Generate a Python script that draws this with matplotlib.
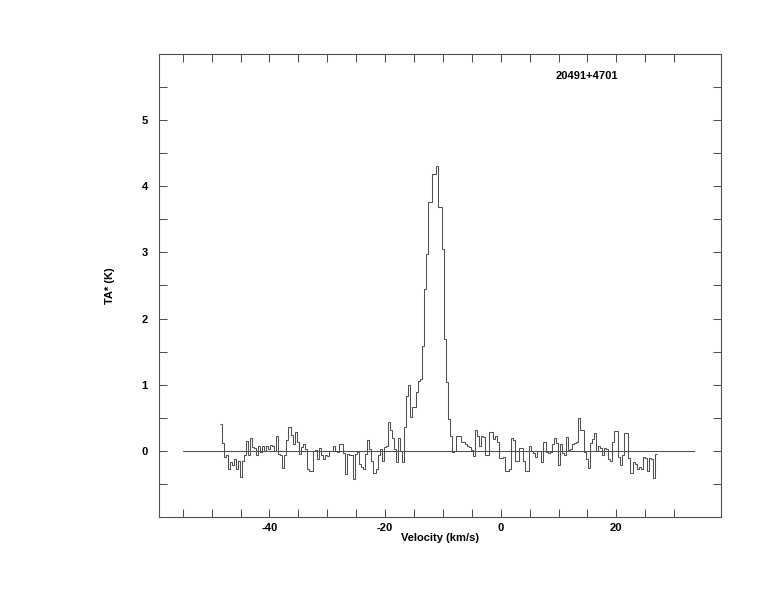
import numpy as np
import matplotlib
matplotlib.use("Agg")
import matplotlib.pyplot as plt

# source name and axis labels
source_name = "20491+4701"
x_label = "Velocity (km/s)"
y_label = "TA* (K)"

# spectral grid: first channel edge and channel width (km/s)
v_first_edge = -48.6
chan_width = 0.35

# antenna temperature per channel (K)
ta_noise_left = [
    0.41, 0.12, -0.10, -0.07, -0.27, -0.17, -0.21, -0.12, -0.28, -0.15,
    -0.40, -0.15, -0.07, 0.15, -0.06, 0.19, 0.06, 0.04, -0.06, 0.08,
    -0.02, 0.07, 0.00, 0.08, 0.03, 0.09, 0.08, 0.00, 0.22, -0.05,
    -0.07, -0.26, -0.06, 0.17, 0.36, 0.24, 0.10, 0.28, 0.13, -0.05,
    0.06, 0.11, 0.03, -0.28, -0.30, -0.30, 0.00, 0.02, -0.13, 0.04,
    -0.06, -0.13, -0.07, -0.08, 0.00, 0.00, 0.08, 0.00, -0.01, 0.11,
    0.11, -0.03, -0.35, -0.05, -0.06, -0.07, -0.42, -0.05, -0.02, -0.20,
    -0.25, -0.27, -0.05, 0.16, 0.03, -0.15, -0.33, -0.27, -0.07, 0.03,
    -0.15, 0.06, 0.08, 0.43, 0.31, 0.19, 0.03, -0.17, 0.19, 0.00,
    -0.17, 0.36,
]
ta_line = [
    0.83, 0.99, 0.51, 0.66, 0.66, 0.89, 1.05, 1.09, 1.59, 2.45,
    2.98, 3.76, 3.76, 4.18, 4.18, 4.30, 3.68, 3.68, 3.05, 1.69,
    1.04, 0.48, 0.23, -0.02,
]
ta_noise_right = [
    0.00, 0.23, 0.22, 0.13, 0.13, 0.11, 0.08, 0.06, 0.02, -0.08,
    0.31, 0.23, 0.08, 0.22, 0.21, -0.06, -0.06, 0.28, 0.28, 0.18,
    0.22, 0.13, -0.11, -0.11, -0.10, -0.31, -0.31, -0.27, 0.19, 0.16,
    -0.16, -0.16, 0.04, 0.04, -0.15, -0.31, -0.31, 0.07, 0.00, -0.03,
    -0.10, 0.00, 0.00, -0.17, 0.13, -0.01, -0.03, -0.01, 0.11, 0.19,
    0.12, -0.21, 0.11, -0.03, -0.06, 0.21, 0.02, 0.03, 0.11, 0.12,
    0.13, 0.49, 0.31, 0.31, -0.02, -0.12, -0.26, 0.12, 0.18, 0.27,
    0.00, 0.07, 0.04, -0.06, 0.04, 0.03, -0.12, -0.15, 0.14, 0.30,
    0.30, -0.10, -0.21, -0.06, 0.27, 0.27, -0.11, -0.33, -0.17, -0.20,
    -0.28, -0.25, -0.27, -0.10, -0.11, -0.30, -0.11, -0.12, -0.41, -0.05,
]

# baseline drawn across the spectrum
baseline_range = [-55.0, 33.4]
baseline_level = [0.0, 0.0]

# axis ticks
x_ticks = np.arange(-55, 31, 5)
x_labelled = [-40, -20, 0, 20]
y_ticks = np.arange(-0.5, 5.51, 0.5)
y_labelled = [0, 1, 2, 3, 4, 5]

ta = np.array(ta_noise_left + ta_line + ta_noise_right)
edges = v_first_edge + chan_width * np.arange(len(ta) + 1)

fig = plt.figure(figsize=(7.74, 6.12), dpi=100)
ax = fig.add_axes([0.2054, 0.1552, 0.7261, 0.7566])

line_col = "#505050"
ax.stairs(ta, edges, baseline=None, color=line_col, lw=0.75)
ax.plot(baseline_range, baseline_level, color=line_col, lw=0.75)

ax.set_xlim(-59.1, 38.1)
ax.set_ylim(-1.0, 6.0)

font = {"family": "Liberation Sans", "weight": "bold", "size": 8}

ax.set_xticks(x_ticks)
ax.set_xticklabels([str(t) if t in x_labelled else "" for t in x_ticks], fontdict=font)
ax.set_yticks(y_ticks)
ax.set_yticklabels([str(int(t)) if t in y_labelled else "" for t in y_ticks], fontdict=font)
ax.tick_params(axis="both", which="both", direction="in", length=6, width=0.75,
               color=line_col, top=True, right=True)
ax.tick_params(axis="x", pad=4)
ax.tick_params(axis="y", pad=8)
for sp in ax.spines.values():
    sp.set_color(line_col)
    sp.set_linewidth(0.8)

ax.set_xlabel(x_label, fontdict=font)
ax.xaxis.set_label_coords(0.5, -0.034)
ax.set_ylabel(y_label, fontdict=font)
ax.yaxis.set_label_coords(-0.078, 0.5)

ax.text(0.7616, 0.952, source_name, transform=ax.transAxes, ha="center", va="center",
        fontdict=font)

fig.savefig("out.png", dpi=100)
